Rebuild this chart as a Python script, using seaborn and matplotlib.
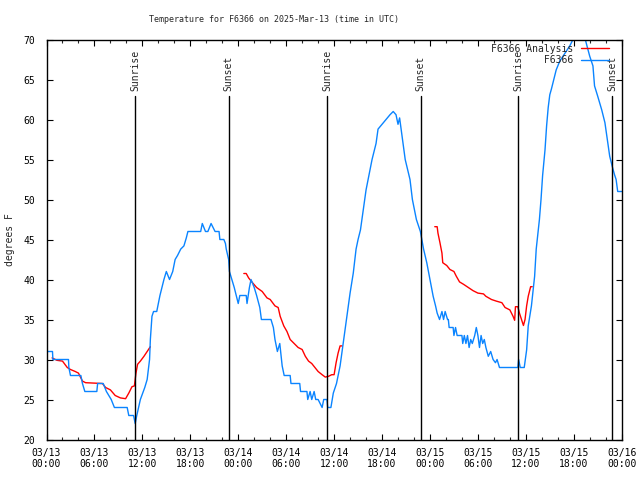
import matplotlib
matplotlib.use("Agg")
import matplotlib.pyplot as plt
from matplotlib.lines import Line2D
from matplotlib.ticker import MultipleLocator
import seaborn as sns
import pandas as pd

# ---------------- data ----------------
obs_hours = [0, 0.75, 0.8, 2.75, 2.8, 3.0, 4.3, 4.5, 4.8, 6.3, 6.4, 7.1, 7.5, 8.1, 8.5, 10.1, 10.3,
             10.9, 11.1, 11.3, 11.75, 12.3, 12.6, 12.9, 13.0, 13.1, 13.2, 13.4, 13.8, 14.2, 14.7,
             15.0, 15.4, 15.8, 16.1, 16.4, 16.8, 17.2, 17.5, 17.7, 19.3, 19.5, 19.9, 20.2, 20.6,
             21.1, 21.6, 21.7, 22.2, 22.4, 22.5, 22.8, 22.9, 23.2, 23.5, 23.75, 24.0, 24.2, 25.0,
             25.1, 25.4, 25.6, 25.8, 26.0, 26.3, 26.7, 26.9, 28.1, 28.4, 28.6, 28.9, 29.2, 29.5,
             29.75, 30.5, 30.6, 31.7, 31.8, 32.6, 32.7, 33.0, 33.2, 33.5, 33.7, 34.0, 34.5, 34.7,
             35.1, 35.2, 35.6, 35.9, 36.3, 36.75, 37.2, 37.6, 38.0, 38.4, 38.75, 39.0, 39.3, 40.0,
             40.75, 41.25, 41.5, 42.0, 42.5, 43.0, 43.4, 43.75, 44.0, 44.2, 44.5, 44.9, 45.5,
             45.8, 46.3, 46.8, 47.2, 47.6, 48.0, 48.4, 48.7, 48.9, 49.2, 49.5, 49.7, 49.9, 50.2,
             50.3, 50.4, 50.9, 51.0, 51.2, 51.4, 52.0, 52.1, 52.3, 52.5, 52.7, 52.9, 53.1, 53.3,
             53.6, 53.8, 54.0, 54.2, 54.4, 54.6, 54.8, 55.0, 55.3, 55.6, 55.9, 56.2, 56.4, 56.7,
             59.0, 59.1, 59.3, 59.8, 60.1, 60.3, 60.7, 61.1, 61.3, 61.7, 61.9, 62.1, 62.4, 62.6,
             62.8, 63.0, 63.2, 63.5, 63.8, 64.25, 64.9, 65.5, 65.9, 66.1, 66.4, 66.6, 66.9, 67.2,
             67.6, 68.0, 68.4, 68.6, 69.0, 69.5, 69.9, 70.2, 70.5, 70.8, 71.1, 71.3, 71.5, 72.0]
obs_temps = [31, 31, 30, 30, 29, 28, 28, 27, 26, 26, 27, 27, 26, 25, 24, 24, 23,
             23, 22, 23, 25, 26.5, 27.5, 30, 32.5, 34, 35.4, 36, 36, 38, 40,
             41, 40, 41, 42.5, 43, 43.8, 44.2, 45.2, 46, 46, 47, 46, 46, 47,
             46, 46, 45, 45, 44.5, 43.8, 42.5, 41, 40, 39, 38, 37, 38, 38,
             37, 39, 40, 39.5, 39, 38, 36.5, 35, 35, 34, 32.5, 31, 32, 29.2,
             28, 28, 27, 27, 26, 26, 25, 26, 25, 26, 25, 25, 24, 25,
             25, 24, 24, 25.8, 27, 29.2, 32.5, 35.4, 38.3, 40.8, 43.8, 45, 46.2, 51.2,
             55, 57, 58.8, 59.4, 60, 60.6, 61, 60.6, 59.4, 60.2, 58, 55, 52.5,
             50, 47.5, 46, 43.8, 42.1, 40, 37.9, 36.7, 35.8, 35, 36, 35, 36, 35,
             35, 34, 34, 33, 34, 33, 33, 32, 33, 32, 33, 31.5, 32.5, 32,
             33, 34, 33, 31.5, 33, 32, 32.5, 31.5, 30.4, 31, 30, 29.6, 30, 29,
             29, 30, 29, 29, 31.2, 34.2, 36.7, 40.4, 43.8, 47.5, 50, 53, 56.2, 59.2,
             61.5, 63.1, 63.8, 65, 66.2, 67.3, 68.3, 69.2, 70, 71, 70, 71, 70.2, 71,
             69.4, 67.9, 66.7, 64.2, 62.9, 61.2, 59.6, 57.5, 55.4, 54.2, 53.1, 52.5, 51, 51]

ana1_hours = [0.7, 1.3, 2.0, 2.6, 3.0, 3.6, 4.0, 4.5, 4.9, 7.0, 7.4, 8.0, 8.6, 9.25, 9.9, 10.3,
              10.7, 11.0, 11.2, 11.4, 11.75, 12.2, 12.6, 13.0]
ana1_temps = [30.2, 29.9, 29.8, 29.0, 28.75, 28.5, 28.3, 27.3, 27.1, 27.0, 26.5, 26.2, 25.5, 25.2,
              25.1, 25.8, 26.6, 26.7, 28.3, 29.4, 29.8, 30.4, 31.0, 31.6]
ana2_hours = [24.7, 25.0, 25.3, 25.7, 26.3, 27.0, 27.6, 28.0, 28.6, 29.0, 29.25, 29.7, 30.1, 30.5,
              30.9, 31.5, 32.0, 32.4, 32.8, 33.2, 33.6, 34.0, 34.5, 34.9, 35.3, 35.7, 36.0,
              36.25, 36.5, 36.75, 37.0]
ana2_temps = [40.75, 40.75, 40.2, 39.7, 39.0, 38.5, 37.7, 37.5, 36.7, 36.5, 35.4, 34.2, 33.5, 32.5,
              32.1, 31.5, 31.25, 30.4, 29.8, 29.5, 29.0, 28.5, 28.1, 27.8, 27.9, 28.1, 28.1,
              29.6, 30.8, 31.7, 31.7]
ana3_hours = [48.6, 48.9, 49.0, 49.25, 49.5, 49.6, 50.1, 50.5, 51.0, 51.3, 51.7, 52.2, 52.8, 53.4,
              54.0, 54.7, 55.0, 55.7, 56.3, 57.0, 57.4, 58.0, 58.4, 58.6, 58.7, 59.0, 59.2,
              59.7, 59.9, 60.1, 60.3, 60.6, 60.8]
ana3_temps = [46.6, 46.6, 45.8, 44.6, 43.3, 42.1, 41.75, 41.25, 41.0, 40.4, 39.7, 39.4, 39.0, 38.6,
              38.3, 38.2, 37.9, 37.5, 37.3, 37.1, 36.5, 36.2, 35.4, 34.9, 36.6, 36.6, 35.8,
              34.25, 35.0, 36.7, 37.9, 39.1, 39.1]

sun_hours = [11.12, 22.8, 35.17, 46.83, 59.04, 70.8]
sun_labels = ["Sunrise", "Sunset", "Sunrise", "Sunset", "Sunrise", "Sunset"]

tick_hours = [0, 6, 12, 18, 24, 30, 36, 42, 48, 54, 60, 66, 72]
tick_labels = ["03/13\n00:00", "03/13\n06:00", "03/13\n12:00", "03/13\n18:00",
               "03/14\n00:00", "03/14\n06:00", "03/14\n12:00", "03/14\n18:00",
               "03/15\n00:00", "03/15\n06:00", "03/15\n12:00", "03/15\n18:00",
               "03/16\n00:00"]

title = "Temperature for F6366 on 2025-Mar-13 (time in UTC)"
obs_name = "F6366"
ana_name = "F6366 Analysis"

# ---------------- styling ----------------
sns.set_style("ticks")
MONO = ["DejaVu Sans Mono", "DejaVu Sans"]
plt.rcParams["font.family"] = MONO
plt.rcParams["axes.linewidth"] = 1.0

RED = "#ff0000"
BLUE = "#0a84ff"

fig = plt.figure(figsize=(6.4, 4.8), dpi=100)
ax = fig.add_axes([46.5 / 640, 1 - 439.5 / 480, (621.7 - 46.5) / 640, 400 / 480])

ana_df = pd.concat([
    pd.DataFrame({"hour": ana1_hours, "temp": ana1_temps, "seg": 1}),
    pd.DataFrame({"hour": ana2_hours, "temp": ana2_temps, "seg": 2}),
    pd.DataFrame({"hour": ana3_hours, "temp": ana3_temps, "seg": 3}),
], ignore_index=True)
obs_df = pd.DataFrame({"hour": obs_hours, "temp": obs_temps})

sns.lineplot(data=ana_df, x="hour", y="temp", units="seg", estimator=None, sort=False,
             color=RED, lw=1.0, ax=ax, legend=False)
sns.lineplot(data=obs_df, x="hour", y="temp", estimator=None, sort=False,
             color=BLUE, lw=1.0, ax=ax, legend=False)

for h, lab in zip(sun_hours, sun_labels):
    ax.axvline(h, ymin=0, ymax=0.859, color="black", lw=1.0)
    ax.text(h, 0.872, lab, transform=ax.get_xaxis_transform(), rotation=90,
            ha="center", va="bottom", fontsize=7, family=MONO)

ax.set_xlim(0, 72)
ax.set_ylim(20, 70)
ax.set_xticks(tick_hours)
ax.set_xticklabels(tick_labels, fontsize=7)
ax.xaxis.set_minor_locator(MultipleLocator(2))
ax.yaxis.set_major_locator(MultipleLocator(5))
ax.tick_params(axis="y", labelsize=7, pad=8)
ax.tick_params(axis="x", pad=6)
ax.tick_params(which="major", direction="in", length=4.5, width=0.8,
               top=True, right=True, colors="black")
ax.tick_params(which="minor", direction="in", length=2.3, width=0.8,
               top=True, right=False, bottom=True, left=False)
ax.tick_params(axis="y", which="minor", left=False, right=False)
for s in ax.spines.values():
    s.set_visible(True)
    s.set_color("black")

ax.set_xlabel("")
ax.set_ylabel("degrees F", fontsize=7)
ax.yaxis.set_label_coords((15 - 46.5) / 575.2, 0.5)

fig.text(149 / 640, 1 - 20 / 480, title, ha="left", va="center", fontsize=6, family=MONO)

handles = [Line2D([], [], color=RED, lw=1.0), Line2D([], [], color=BLUE, lw=1.0)]
w = len(ana_name)
labels = [ana_name, obs_name.rjust(w)]
ax.legend(handles, labels, loc="upper right", bbox_to_anchor=((609 - 46.5) / 575.2, 0.99),
          frameon=False, markerfirst=False, handlelength=2.9, handletextpad=0.8,
          borderaxespad=0, borderpad=0, labelspacing=0.2,
          prop={"family": "DejaVu Sans Mono", "size": 7})

fig.savefig("out.png", dpi=100, facecolor="white")
